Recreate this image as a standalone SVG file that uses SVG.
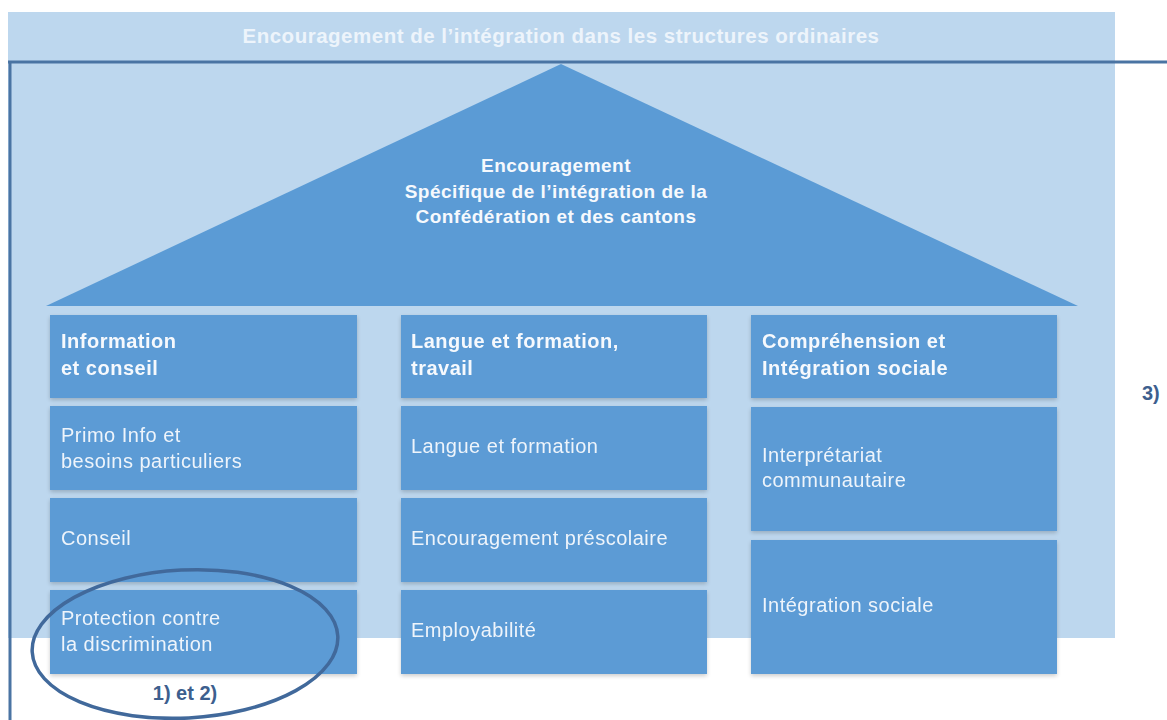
<svg xmlns="http://www.w3.org/2000/svg" width="1167" height="720" viewBox="0 0 1167 720">
<style>
.box{fill:#5b9bd5}
.t{font-family:"Liberation Sans",Arial,sans-serif;font-size:20px;fill:#eef4fb;letter-spacing:0.5px}
.b{font-weight:bold;fill:#f6f9fd}
.c{text-anchor:middle}
.d{fill:#3d5f8e;font-weight:bold;letter-spacing:0}
</style>
<defs>
<filter id="sh" x="-5%" y="-5%" width="110%" height="120%">
<feGaussianBlur in="SourceAlpha" stdDeviation="2"/>
<feOffset dy="2"/>
<feComponentTransfer><feFuncA type="linear" slope="0.2"/></feComponentTransfer>
<feMerge><feMergeNode/><feMergeNode in="SourceGraphic"/></feMerge>
</filter>
</defs>
<rect width="1167" height="720" fill="#ffffff"/>
<g id="background">
<rect x="8" y="12" width="1107" height="626" fill="#bdd7ee"/>
<text class="t b c" x="561" y="43" textLength="637" lengthAdjust="spacingAndGlyphs" style="fill:#edf4fb">Encouragement de l’intégration dans les structures ordinaires</text>
</g>
<g id="frame" fill="none" stroke="#4a74a3" stroke-width="3">
<line x1="8" y1="62" x2="1167" y2="62"/>
<line x1="10" y1="62" x2="10" y2="720"/>
</g>
<g id="roof">
<polygon points="561,64 1078,306 46,306" class="box"/>
<text class="t b c" x="556" y="172" style="font-size:19px">Encouragement</text>
<text class="t b c" x="556" y="198" style="font-size:19px">Spécifique de l’intégration de la</text>
<text class="t b c" x="556" y="223" style="font-size:19px">Confédération et des cantons</text>
</g>
<g id="col1" filter="url(#sh)">
<g id="info-conseil"><rect class="box" x="50" y="315" width="307" height="83"/>
<text class="t b" x="61" y="348">Information</text><text class="t b" x="61" y="375">et conseil</text></g>
<g id="primo"><rect class="box" x="50" y="406" width="307" height="84"/>
<text class="t" x="61" y="442">Primo Info et</text><text class="t" x="61" y="468">besoins particuliers</text></g>
<g id="conseil"><rect class="box" x="50" y="498" width="307" height="84"/>
<text class="t" x="61" y="545">Conseil</text></g>
<g id="protection"><rect class="box" x="50" y="590" width="307" height="84"/>
<text class="t" x="61" y="625">Protection contre</text><text class="t" x="61" y="651">la discrimination</text></g>
</g>
<g id="col2" filter="url(#sh)">
<g id="langue-travail"><rect class="box" x="401" y="315" width="306" height="83"/>
<text class="t b" x="411" y="348">Langue et formation,</text><text class="t b" x="411" y="375">travail</text></g>
<g id="langue"><rect class="box" x="401" y="406" width="306" height="84"/>
<text class="t" x="411" y="453">Langue et formation</text></g>
<g id="prescolaire"><rect class="box" x="401" y="498" width="306" height="84"/>
<text class="t" x="411" y="545">Encouragement préscolaire</text></g>
<g id="employabilite"><rect class="box" x="401" y="590" width="306" height="84"/>
<text class="t" x="411" y="637">Employabilité</text></g>
</g>
<g id="col3" filter="url(#sh)">
<g id="comprehension"><rect class="box" x="751" y="315" width="306" height="83"/>
<text class="t b" x="762" y="348">Compréhension et</text><text class="t b" x="762" y="375">Intégration sociale</text></g>
<g id="interpretariat"><rect class="box" x="751" y="407" width="306" height="124"/>
<text class="t" x="762" y="462">Interprétariat</text><text class="t" x="762" y="487">communautaire</text></g>
<g id="integration"><rect class="box" x="751" y="540" width="306" height="134"/>
<text class="t" x="762" y="612">Intégration sociale</text></g>
</g>
<g id="connectors">
<ellipse cx="185" cy="644" rx="153" ry="74" transform="rotate(-3 185 644)" fill="none" stroke="#41699b" stroke-width="3.5"/>
</g>
<g id="labels">
<text class="t d c" x="185" y="700">1) et 2)</text>
<text class="t d" x="1142" y="400">3)</text>
</g>
</svg>
